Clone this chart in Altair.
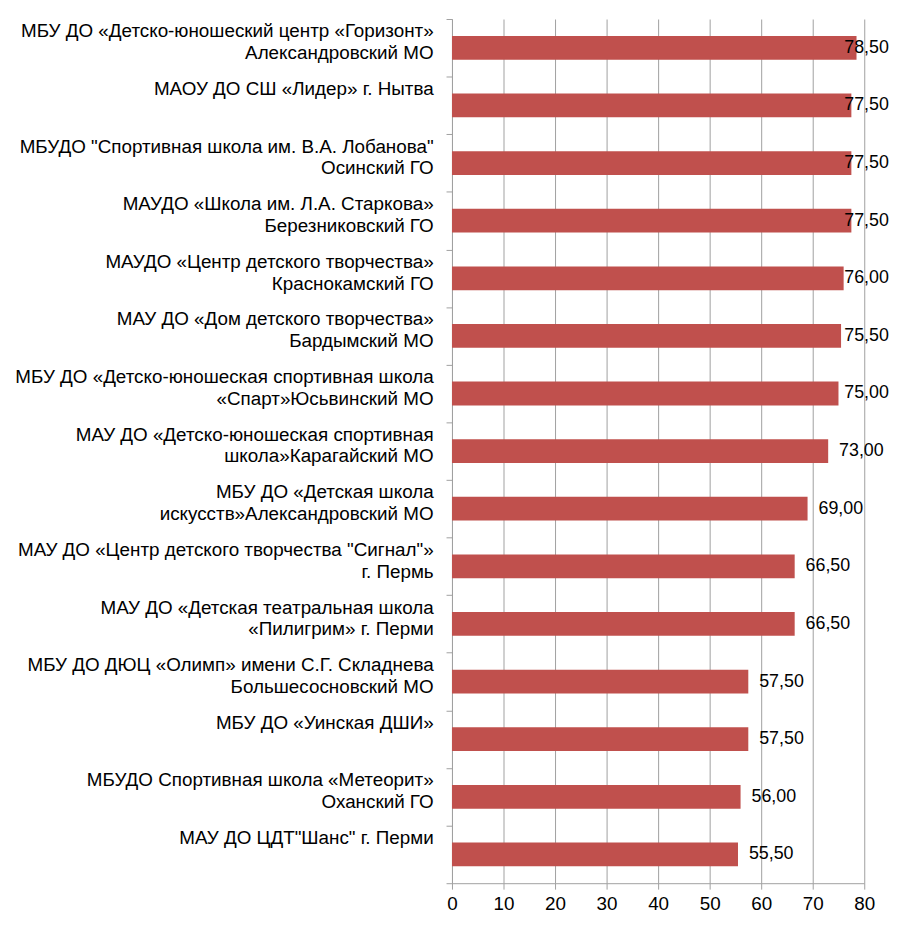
import altair as alt
import pandas as pd

names = [
    "МБУ ДО «Детско-юношеский  центр «Горизонт»|Александровский МО",
    "МАОУ ДО СШ «Лидер» г. Нытва",
    'МБУДО "Спортивная школа им. В.А. Лобанова"|Осинский ГО',
    "МАУДО «Школа им. Л.А. Старкова»|Березниковский ГО",
    "МАУДО «Центр детского творчества»|Краснокамский ГО",
    "МАУ ДО «Дом детского творчества»|Бардымский МО",
    "МБУ ДО «Детско-юношеская спортивная школа|«Спарт»Юсьвинский МО",
    "МАУ ДО «Детско-юношеская спортивная|школа»Карагайский МО",
    "МБУ ДО «Детская школа|искусств»Александровский МО",
    'МАУ ДО «Центр детского творчества "Сигнал"»|г. Пермь',
    "МАУ ДО «Детская театральная школа|«Пилигрим» г. Перми",
    "МБУ ДО ДЮЦ «Олимп» имени С.Г. Складнева|Большесосновский МО",
    "МБУ ДО «Уинская ДШИ»",
    "МБУДО Спортивная школа «Метеорит»|Оханский ГО",
    'МАУ ДО ЦДТ"Шанс" г. Перми',
]
scores = [78.5, 77.5, 77.5, 77.5, 76.0, 75.5, 75.0, 73.0, 69.0, 66.5, 66.5, 57.5, 57.5, 56.0, 55.5]
x_ticks = [0, 10, 20, 30, 40, 50, 60, 70, 80]

df = pd.DataFrame({"name": names, "score": scores})

FONT = "Liberation Sans"
GREY = "#a0a0a0"

y_enc = alt.Y(
    "name:N",
    sort=names,
    title=None,
    scale=alt.Scale(paddingInner=0, paddingOuter=0),
    axis=alt.Axis(
        grid=False,
        tickBand="extent",
        tickSize=6,
        tickColor=GREY,
        domainColor=GREY,
        labelPadding=13,
        labelAlign="right",
        labelBaseline="top",
        labelOffset=-26,
        labelLineHeight=22,
        labelLimit=600,
        labelOverlap=False,
        labelBound=False,
        labelFont=FONT,
        labelFontSize=19,
        labelColor="black",
        labelExpr="split(datum.label, '|')",
    ),
)

x_scale = alt.Scale(domain=[0, 80], nice=False)
x_axis = alt.Axis(
    values=x_ticks,
    format="d",
    grid=True,
    gridColor=GREY,
    tickColor=GREY,
    domainColor=GREY,
    tickSize=6,
    labelPadding=6,
    labelFlush=False,
    labelOverlap=False,
    labelFont=FONT,
    labelFontSize=19,
    labelColor="black",
)

bars = alt.Chart(df).mark_bar(size=24, color="#C0504D").encode(
    y=y_enc,
    x=alt.X("score:Q", title=None, scale=x_scale, axis=x_axis),
)

texts = (
    alt.Chart(df)
    .transform_calculate(
        lx="min(datum.score, 74)",
        lbl="replace(format(datum.score, '.2f'), '.', ',')",
    )
    .mark_text(align="left", baseline="middle", dx=11, font=FONT, fontSize=18, color="black")
    .encode(
        y=y_enc,
        x=alt.X("lx:Q", title=None, scale=x_scale, axis=x_axis),
        text="lbl:N",
    )
)

chart = (
    alt.layer(bars, texts)
    .properties(
        width=416,
        height=872,
        autosize=alt.AutoSizeParams(type="none"),
        padding={"left": 448, "top": 7, "right": 28, "bottom": 31},
    )
    .configure_view(stroke=None)
)

chart.save("out.html", embed_options={"renderer": "svg", "actions": False})
